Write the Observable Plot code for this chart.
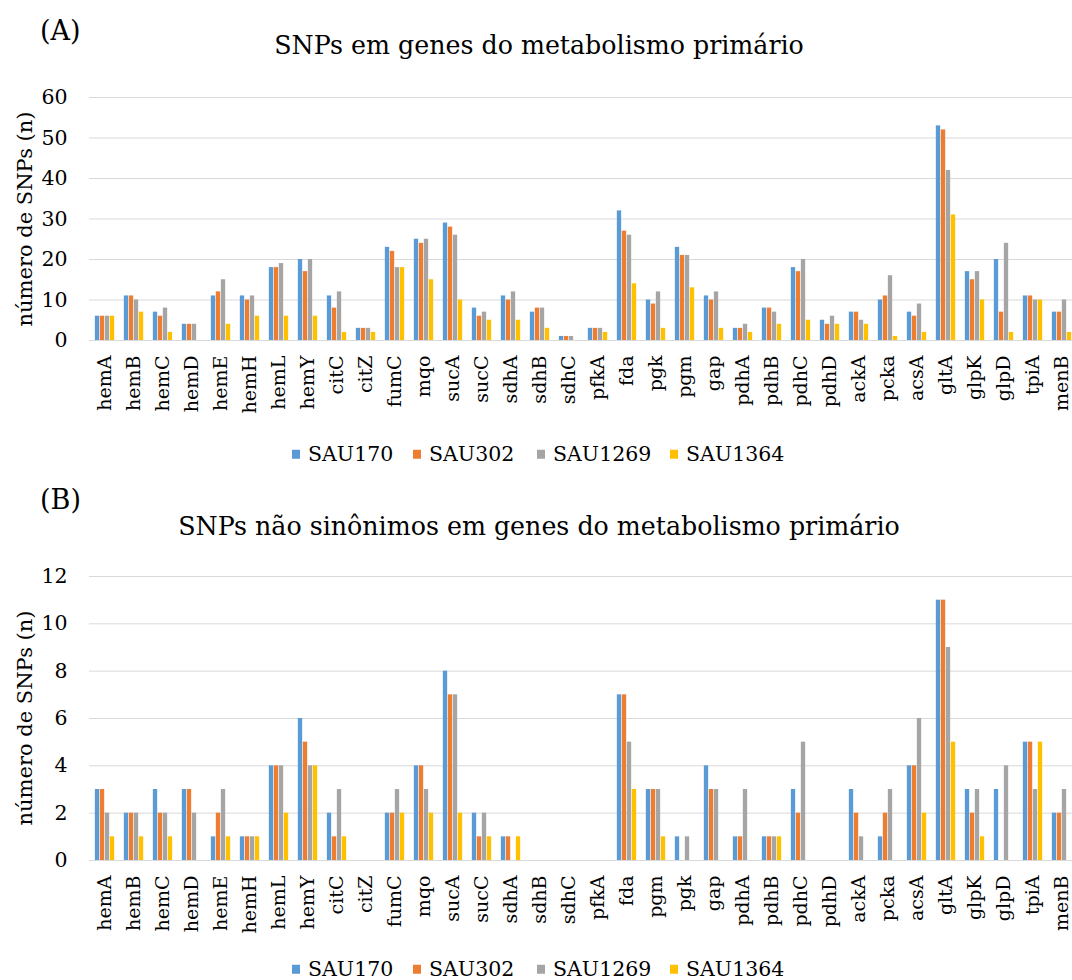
<!DOCTYPE html>
<html>
<head>
<meta charset="utf-8">
<script src="https://cdn.jsdelivr.net/npm/d3@7"></script>
<script src="https://cdn.jsdelivr.net/npm/@observablehq/plot@0.6"></script>
<style>
  html, body { margin: 0; padding: 0; background: #fff; overflow: hidden; }
  #page { position: relative; width: 1072px; height: 980px; font-family: "DejaVu Serif", serif; color: #000; }
  .abs { position: absolute; white-space: nowrap; line-height: 1; }
  .panel { position: absolute; left: 0; }
  .panel g[aria-label^="y-axis"] text { font-size: 20.5px; }
  .tag { font-size: 27px; }
  .title { font-size: 25.3px; transform: translate(-50%, -50%); }
  .ylab { font-size: 21px; transform: translate(-50%, -50%) rotate(-90deg); }
  .legend-item { font-size: 20.5px; transform: translateY(-50%); display: flex; align-items: center; }
  .legend-item i { display: inline-block; width: 8px; height: 9px; margin-right: 8px; }
</style>
</head>
<body>
<div id="page"></div>
<script>
// Strains
const series = ["SAU170", "SAU302", "SAU1269", "SAU1364"];
const seriesColors = ["#5B9BD5", "#ED7D31", "#A5A5A5", "#FFC000"];

// (A) all SNPs per gene
const genesA = ["hemA","hemB","hemC","hemD","hemE","hemH","hemL","hemY","citC","citZ","fumC","mqo","sucA","sucC","sdhA","sdhB","sdhC","pfkA","fda","pgk","pgm","gap","pdhA","pdhB","pdhC","pdhD","ackA","pcka","acsA","gltA","glpK","glpD","tpiA","menB"];
const sau170A  = [6,11,7,4,11,11,18,20,11,3,23,25,29,8,11,7,1,3,32,10,23,11,3,8,18,5,7,10,7,53,17,20,11,7];
const sau302A  = [6,11,6,4,12,10,18,17,8,3,22,24,28,6,10,8,1,3,27,9,21,10,3,8,17,4,7,11,6,52,15,7,11,7];
const sau1269A = [6,10,8,4,15,11,19,20,12,3,18,25,26,7,12,8,1,3,26,12,21,12,4,7,20,6,5,16,9,42,17,24,10,10];
const sau1364A = [6,7,2,0,4,6,6,6,2,2,18,15,10,5,5,3,0,2,14,3,13,3,2,4,5,4,4,1,2,31,10,2,10,2];
const ticksA = [0, 10, 20, 30, 40, 50, 60];

// (B) non-synonymous SNPs per gene
const genesB = ["hemA","hemB","hemC","hemD","hemE","hemH","hemL","hemY","citC","citZ","fumC","mqo","sucA","sucC","sdhA","sdhB","sdhC","pfkA","fda","pgm","pgk","gap","pdhA","pdhB","pdhC","pdhD","ackA","pcka","acsA","gltA","glpK","glpD","tpiA","menB"];
const sau170B  = [3,2,3,3,1,1,4,6,2,0,2,4,8,2,1,0,0,0,7,3,1,4,1,1,3,0,3,1,4,11,3,3,5,2];
const sau302B  = [3,2,2,3,2,1,4,5,1,0,2,4,7,1,1,0,0,0,7,3,0,3,1,1,2,0,2,2,4,11,2,0,5,2];
const sau1269B = [2,2,2,2,3,1,4,4,3,0,3,3,7,2,0,0,0,0,5,3,1,3,3,1,5,0,1,3,6,9,3,4,3,3];
const sau1364B = [1,1,1,0,1,1,2,4,1,0,2,2,2,1,1,0,0,0,3,1,0,0,0,1,0,0,0,0,2,5,1,0,5,0];
const ticksB = [0, 2, 4, 6, 8, 10, 12];

const serifFont = "'DejaVu Serif', serif";
const page = document.getElementById("page");

function addText(cls, text, left, top) {
  const d = document.createElement("div");
  d.className = "abs " + cls;
  d.textContent = text;
  d.style.left = left + "px";
  d.style.top = top + "px";
  page.appendChild(d);
  return d;
}

function addLegend(centerY) {
  const xs = [292, 413, 537, 670];
  series.forEach((s, i) => {
    const d = document.createElement("div");
    d.className = "abs legend-item";
    d.style.left = xs[i] + "px";
    d.style.top = centerY + "px";
    const sw = document.createElement("i");
    sw.style.background = seriesColors[i];
    d.appendChild(sw);
    d.appendChild(document.createTextNode(s));
    page.appendChild(d);
  });
}

const left = 89, right = 1077, width = 1072;

function chart(genes, cols, ticks, marginTop, zeroY, top) {
  const rows = [];
  genes.forEach((g, gi) => series.forEach((s, si) => rows.push({gene: g, series: s, value: cols[si][gi]})));
  const bw = (right - left) / genes.length;
  const barW = 4.4, pitch = 5;
  const inset = (bw - barW) / 2;
  const marginBottom = 100;
  const plot = Plot.plot({
    width,
    height: zeroY + marginBottom,
    marginLeft: left,
    marginRight: width - right,
    marginTop,
    marginBottom,
    style: {fontFamily: serifFont, fontSize: "19px", color: "#000", background: "transparent", overflow: "visible"},
    x: {domain: genes, padding: 0, label: null, tickRotate: -90, tickSize: 0, tickPadding: 15},
    y: {domain: [0, ticks[ticks.length - 1]], ticks, label: null, tickSize: 0, tickPadding: 22},
    color: {domain: series, range: seriesColors},
    marks: [
      Plot.ruleY(ticks, {stroke: "#d9d9d9", strokeWidth: 1}),
      ...series.map((s, i) => Plot.barY(rows.filter(r => r.series === s), {
        x: "gene", y: "value", fill: "series",
        insetLeft: inset, insetRight: inset,
        dx: (i - 1.5) * pitch
      }))
    ]
  });
  plot.classList.add("panel");
  plot.style.top = top + "px";
  page.appendChild(plot);
}

// Panel A
chart(genesA, [sau170A, sau302A, sau1269A, sau1364A], ticksA, 97, 340, 0);
addText("tag", "(A)", 40, 17);
addText("title", "SNPs em genes do metabolismo primário", 539, 46);
addText("ylab", "número de SNPs (n)", 25, 219);
addLegend(454);

// Panel B
chart(genesB, [sau170B, sau302B, sau1269B, sau1364B], ticksB, 96, 380, 480);
addText("tag", "(B)", 40, 486);
addText("title", "SNPs não sinônimos em genes do metabolismo primário", 539, 527);
addText("ylab", "número de SNPs (n)", 25, 718);
addLegend(969);
</script>
</body>
</html>
